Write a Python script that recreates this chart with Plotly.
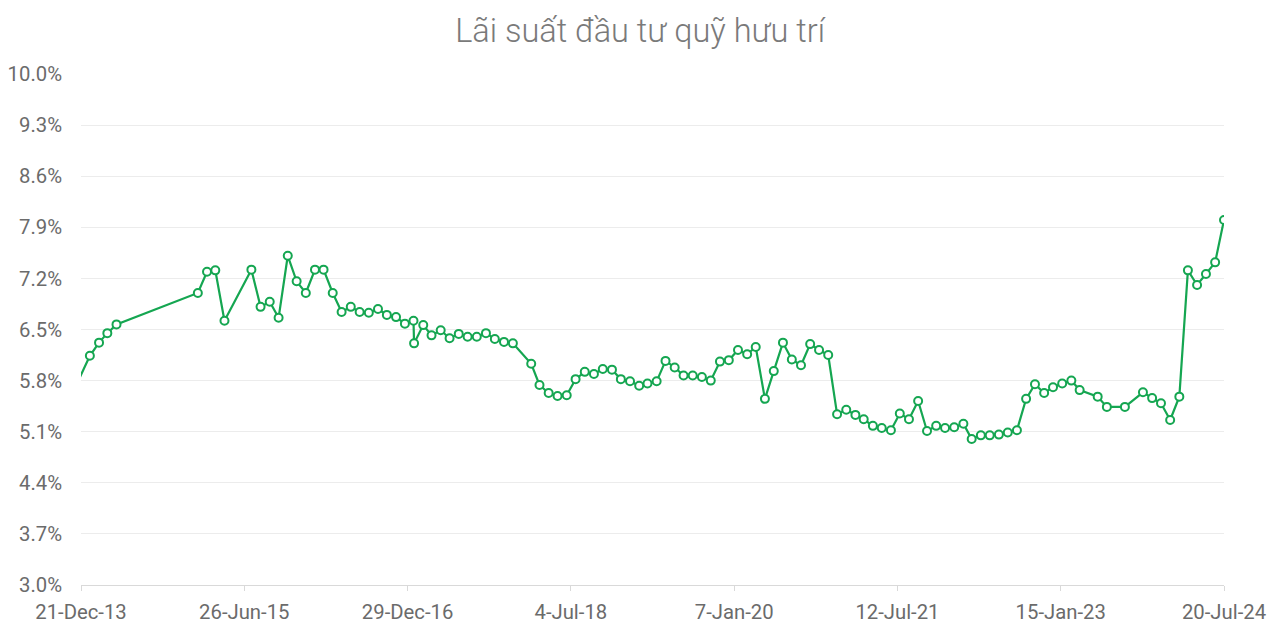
import plotly.graph_objects as go

# Monthly readings (rate in %)
dates = [
    "2013-11-20", "2014-01-20", "2014-02-20", "2014-03-20", "2014-04-20",
    "2015-01-20", "2015-02-20", "2015-03-20", "2015-04-20", "2015-07-20",
    "2015-08-20", "2015-09-20", "2015-10-20", "2015-11-20", "2015-12-20",
    "2016-01-20", "2016-02-20", "2016-03-20", "2016-04-20", "2016-05-20",
    "2016-06-20", "2016-07-20", "2016-08-20", "2016-09-20", "2016-10-20",
    "2016-11-20", "2016-12-20", "2017-01-18", "2017-01-20", "2017-02-20",
    "2017-03-20", "2017-04-20", "2017-05-20", "2017-06-20", "2017-07-20",
    "2017-08-20", "2017-09-20", "2017-10-20", "2017-11-20", "2017-12-20",
    "2018-02-20", "2018-03-20", "2018-04-20", "2018-05-20", "2018-06-20",
    "2018-07-20", "2018-08-20", "2018-09-20", "2018-10-20", "2018-11-20",
    "2018-12-20", "2019-01-20", "2019-02-20", "2019-03-20", "2019-04-20",
    "2019-05-20", "2019-06-20", "2019-07-20", "2019-08-20", "2019-09-20",
    "2019-10-20", "2019-11-20", "2019-12-20", "2020-01-20", "2020-02-20",
    "2020-03-20", "2020-04-20", "2020-05-20", "2020-06-20", "2020-07-20",
    "2020-08-20", "2020-09-20", "2020-10-20", "2020-11-20", "2020-12-20",
    "2021-01-20", "2021-02-20", "2021-03-20", "2021-04-20", "2021-05-20",
    "2021-06-20", "2021-07-20", "2021-08-20", "2021-09-20", "2021-10-20",
    "2021-11-20", "2021-12-20", "2022-01-20", "2022-02-20", "2022-03-20",
    "2022-04-20", "2022-05-20", "2022-06-20", "2022-07-20", "2022-08-20",
    "2022-09-20", "2022-10-20", "2022-11-20", "2022-12-20", "2023-01-20",
    "2023-02-20", "2023-03-20", "2023-05-20", "2023-06-20", "2023-08-20",
    "2023-10-20", "2023-11-20", "2023-12-20", "2024-01-20", "2024-02-20",
    "2024-03-20", "2024-04-20", "2024-05-20", "2024-06-20", "2024-07-20",
]
rates = [
    5.61, 6.14, 6.32, 6.45, 6.57,
    7.00, 7.29, 7.31, 6.62, 7.32,
    6.81, 6.88, 6.66, 7.51, 7.16,
    7.00, 7.32, 7.32, 7.00, 6.74,
    6.81, 6.74, 6.73, 6.78, 6.70,
    6.67, 6.58, 6.62, 6.31, 6.56,
    6.42, 6.49, 6.38, 6.44, 6.40,
    6.40, 6.45, 6.37, 6.33, 6.31,
    6.03, 5.74, 5.63, 5.59, 5.60,
    5.82, 5.92, 5.89, 5.96, 5.95,
    5.82, 5.79, 5.73, 5.76, 5.79,
    6.07, 5.98, 5.87, 5.87, 5.85,
    5.80, 6.06, 6.08, 6.22, 6.16,
    6.26, 5.55, 5.93, 6.32, 6.09,
    6.01, 6.30, 6.22, 6.15, 5.34,
    5.40, 5.33, 5.27, 5.18, 5.15,
    5.12, 5.35, 5.27, 5.52, 5.11,
    5.18, 5.15, 5.16, 5.21, 5.00,
    5.05, 5.05, 5.06, 5.09, 5.12,
    5.55, 5.75, 5.63, 5.71, 5.76,
    5.80, 5.67, 5.58, 5.44, 5.44,
    5.64, 5.56, 5.49, 5.26, 5.58,
    7.31, 7.11, 7.26, 7.42, 8.00,
]

x_start = "2013-12-21"
x_end = "2024-07-20"
tick_step_days = 552

green = "#15a651"
grey_text = "#6b6b6b"

fig = go.Figure()

fig.add_trace(go.Scatter(
    x=dates,
    y=rates,
    mode="lines+markers",
    line=dict(color=green, width=2.2),
    marker=dict(size=8, color="white", line=dict(color=green, width=2)),
    hovertemplate="%{x|%d-%b-%y}: %{y:.2f}%<extra></extra>",
))

# the page adds an 8px body margin, so the figure is 8px smaller than the window
fig.update_layout(
    title=dict(
        text="Lãi suất đầu tư quỹ hưu trí",
        x=0.4969, xanchor="center", y=0.964, yanchor="middle",
        font=dict(family="Roboto", size=32.5, color="#7a7a7a", weight=300),
    ),
    width=1272,
    height=619,
    margin=dict(l=73, r=56, t=66, b=42),
    plot_bgcolor="white",
    paper_bgcolor="white",
    showlegend=False,
    font=dict(family="Roboto", size=20.3, color=grey_text),
)

fig.update_xaxes(
    range=[x_start, x_end],
    tickmode="linear",
    tick0=x_start,
    dtick=tick_step_days * 86400000,
    tickformat="%-d-%b-%y",
    showgrid=False,
    showline=True,
    linecolor="#d9d9d9",
    linewidth=1,
    ticks="outside",
    ticklen=5,
    tickcolor="#d9d9d9",
    ticklabelstandoff=4,
    zeroline=False,
    automargin=False,
)

fig.update_yaxes(
    range=[3.0, 10.0],
    tickmode="linear",
    tick0=3.0,
    dtick=0.7,
    tickformat=".1f",
    ticksuffix="%",
    showgrid=True,
    gridcolor="#ececec",
    gridwidth=1,
    zeroline=False,
    ticks="",
    ticklabelstandoff=18,
    automargin=False,
)

fig.write_html("out.html")
